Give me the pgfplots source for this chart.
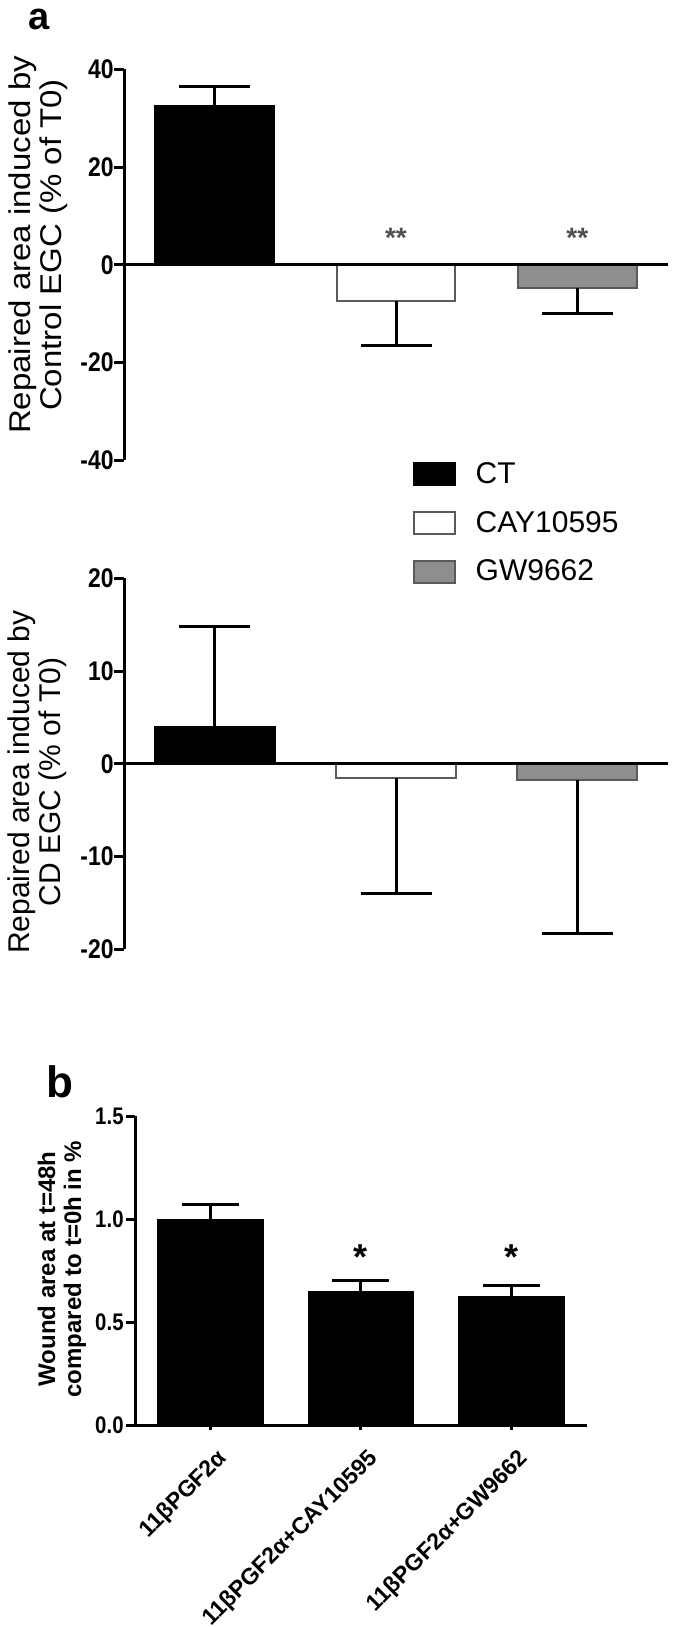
\documentclass[border=0pt]{standalone}
\usepackage{fontspec}
\setmainfont{Liberation Sans}
\newfontfamily\condfont[FakeStretch=0.85]{Liberation Sans}
\newfontfamily\widefont[FakeStretch=1.1]{Liberation Sans}
\usepackage{pgfplots}
\pgfplotsset{compat=1.18}
\definecolor{gwgray}{HTML}{8E8E8E}
\definecolor{edgegray}{HTML}{5A5A5A}
\definecolor{stargray}{HTML}{505050}

\pgfplotsset{
  common/.style={
    scale only axis,
    xmin=-0.5, xmax=2.5,
    axis y line=left,
    axis line style={-, line width=1.5pt},
    tick align=outside,
    major tick length=5pt,
    tick style={line width=1.5pt, black},
    /pgf/number format/assume math mode=true,
    yticklabel style={font=\condfont\bfseries\fontsize{13.5}{13.5}\selectfont, inner sep=1pt, xshift=1pt},
    ybar, bar width=0.655,
    clip=false,
    error bars/error bar style={line width=1.5pt, black},
    error bars/error mark options={rotate=90, line width=1.5pt, black, mark size=17.75pt},
  },
  legbox/.style={legend image code/.code={\draw[##1, line width=1pt] (0pt,-5.5pt) rectangle (20.5pt,5.5pt);}},
}

\begin{document}
\begin{tikzpicture}
\useasboundingbox (0,0) rectangle (337.5pt,-813.5pt);

% ---------- panel a (top) ----------
\begin{axis}[common, axis x line=none,
  at={(62pt,-230.2pt)}, anchor=south west,
  width=272pt, height=195.55pt,
  ymin=-40, ymax=40, ytick={-40,-20,0,20,40}]
\addplot[fill=black, draw=black, line width=1pt, bar shift=0pt,
  error bars/.cd, y dir=plus, y explicit] coordinates {(0,32.4) +- (0,4.1)};
\addplot[fill=white, draw=edgegray, line width=1pt, bar shift=0pt,
  error bars/.cd, y dir=minus, y explicit] coordinates {(1,-7.4) +- (0,9.1)};
\addplot[fill=gwgray, draw=edgegray, line width=1pt, bar shift=0pt,
  error bars/.cd, y dir=minus, y explicit] coordinates {(2,-4.7) +- (0,5.3)};
\draw[line width=1.5pt] (axis cs:-0.5,0) -- (axis cs:2.5,0);
\node[anchor=base, text=stargray, font=\bfseries\fontsize{14}{14}\selectfont] at (axis cs:1,3.5) {**};
\node[anchor=base, text=stargray, font=\bfseries\fontsize{14}{14}\selectfont] at (axis cs:2,3.5) {**};
\end{axis}

% ---------- panel a (bottom) ----------
\begin{axis}[common, axis x line=none,
  at={(62pt,-474.65pt)}, anchor=south west,
  width=272pt, height=185.5pt,
  ymin=-20, ymax=20, ytick={-20,-10,0,10,20},
  bar width=0.66,
  legend style={at={(0.53,1.325)}, anchor=north west, draw=none, fill=none,
    inner sep=0pt, row sep=8.5pt, font=\fontsize{15}{15}\selectfont,
    /tikz/every odd column/.append style={column sep=8pt}},
  legend cell align=left]
\addplot[fill=black, draw=black, line width=1pt, bar shift=0pt, legbox,
  error bars/.cd, y dir=plus, y explicit] coordinates {(0,4.0) +- (0,10.8)};
\addlegendentry{CT}
\addplot[fill=white, draw=edgegray, line width=1pt, bar shift=0pt, legbox,
  error bars/.cd, y dir=minus, y explicit] coordinates {(1,-1.5) +- (0,12.5)};
\addlegendentry{CAY10595}
\addplot[fill=gwgray, draw=edgegray, line width=1pt, bar shift=0pt, legbox,
  error bars/.cd, y dir=minus, y explicit] coordinates {(2,-1.7) +- (0,16.6)};
\addlegendentry{GW9662}
\draw[line width=1.5pt] (axis cs:-0.5,0) -- (axis cs:2.5,0);
\end{axis}

% ---------- panel b ----------
\begin{axis}[common,
  at={(67.5pt,-712.65pt)}, anchor=south west,
  width=225.85pt, height=154.5pt,
  ymin=0, ymax=1.5, ytick={0,0.5,1,1.5},
  axis x line=bottom,
  axis line style={-, line width=1.5pt},
  x axis line style={-},
  xmajorticks=true,
  xtick={0,1,2},
  xticklabels={11βPGF2α, 11βPGF2α+CAY10595, 11βPGF2α+GW9662},
  xticklabel style={rotate=45, anchor=north east, inner sep=1pt, xshift=-3pt, yshift=-7pt,
    font=\bfseries\fontsize{11.5}{11.5}\selectfont},
  yticklabel style={font=\condfont\bfseries\fontsize{12}{12}\selectfont, inner sep=1pt, xshift=-1pt,
    /pgf/number format/.cd, fixed, fixed zerofill, precision=1},
  major tick length=4.5pt,
  bar width=0.7,
  error bars/error mark options={rotate=90, line width=1.5pt, black, mark size=14.25pt}]
\addplot[fill=black, draw=black, bar shift=0pt,
  error bars/.cd, y dir=plus, y explicit] coordinates {(0,1.0) +- (0,0.074)};
\addplot[fill=black, draw=black, bar shift=0pt,
  error bars/.cd, y dir=plus, y explicit] coordinates {(1,0.652) +- (0,0.052)};
\addplot[fill=black, draw=black, bar shift=0pt,
  error bars/.cd, y dir=plus, y explicit] coordinates {(2,0.628) +- (0,0.052)};
\node[anchor=base, font=\bfseries\fontsize{18}{18}\selectfont] at (axis cs:1,0.754) {*};
\node[anchor=base, font=\bfseries\fontsize{18}{18}\selectfont] at (axis cs:2,0.754) {*};
\end{axis}

% ---------- labels ----------
\node[rotate=90, align=center, font=\widefont\fontsize{15}{15.5}\selectfont] at (19pt,-122.5pt)
  {Repaired area induced by\\Control EGC (\% of T0)};
\node[rotate=90, align=center, font=\fontsize{15}{15.5}\selectfont] at (18.5pt,-391pt)
  {Repaired area induced by\\CD EGC (\% of T0)};
\node[rotate=90, align=center, font=\bfseries\fontsize{12}{13}\selectfont] at (31pt,-634.5pt)
  {Wound area at t=48h\\compared to t=0h in \%};
\node[anchor=base west, inner sep=0pt, font=\bfseries\fontsize{19}{19}\selectfont] at (14pt,-15pt) {a};
\node[anchor=base west, inner sep=0pt, font=\bfseries\fontsize{22}{22}\selectfont] at (23pt,-548.5pt) {b};
\end{tikzpicture}
\end{document}
